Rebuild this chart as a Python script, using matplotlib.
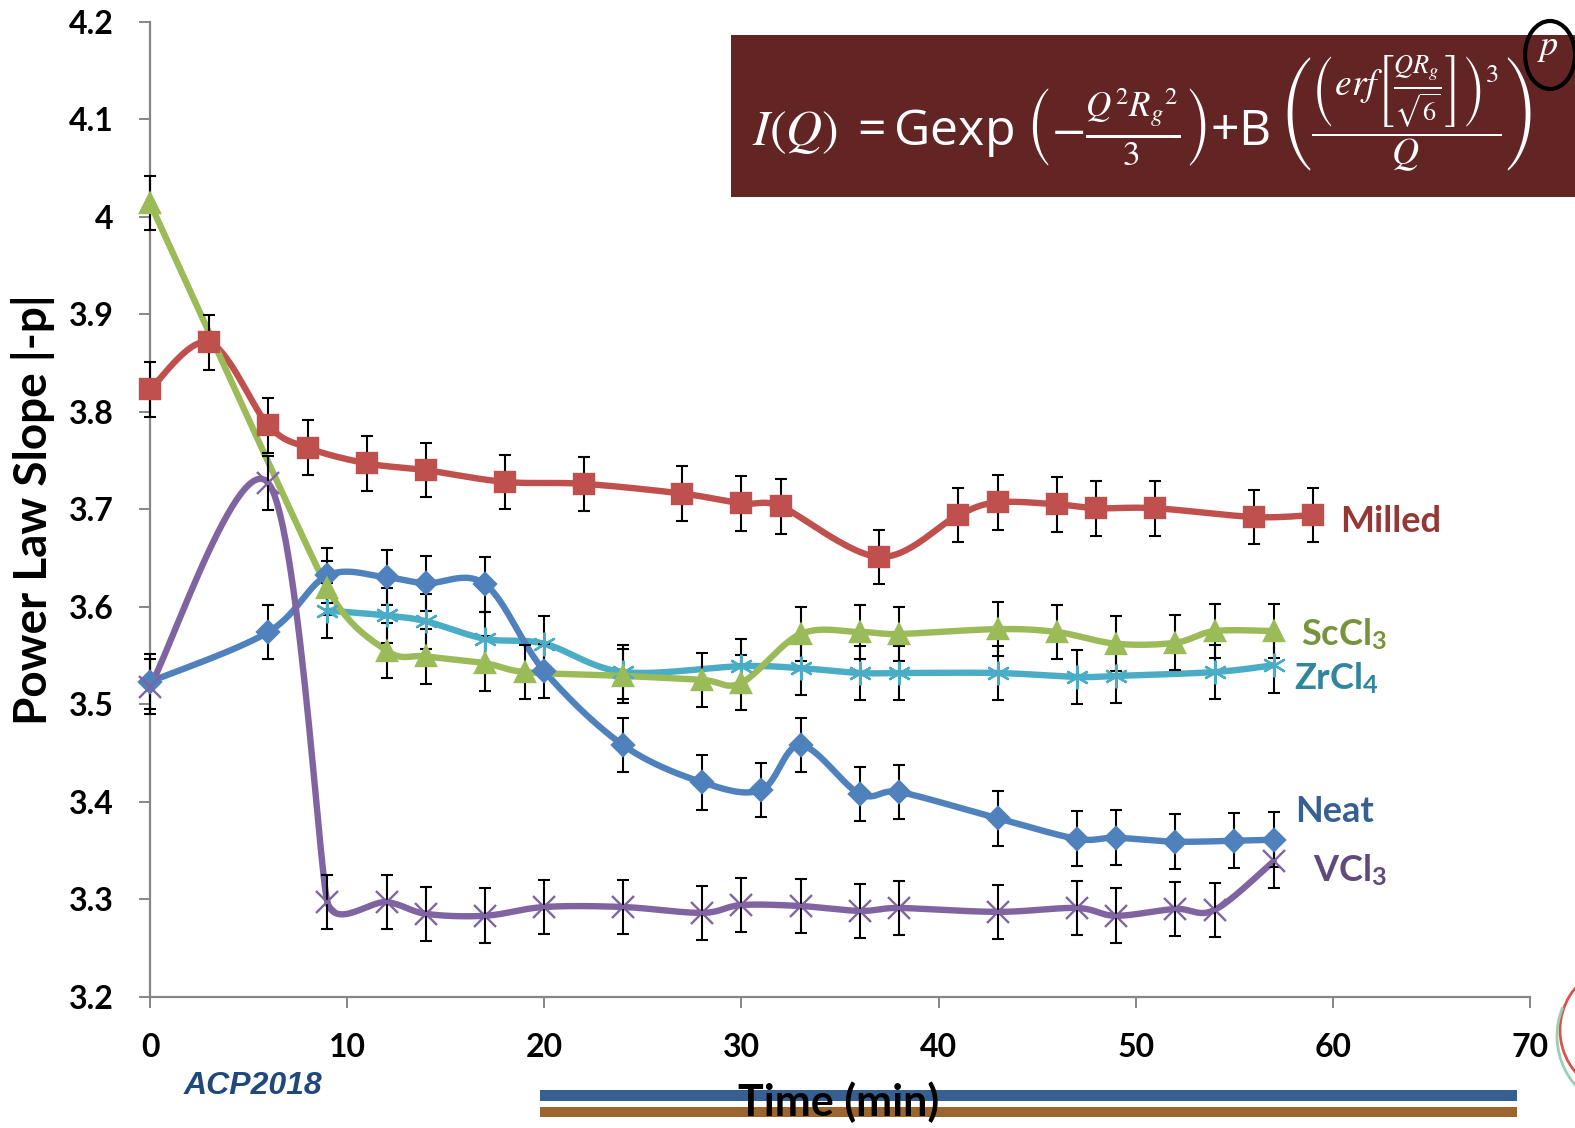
import numpy as np
import matplotlib
matplotlib.use("Agg")
import matplotlib.pyplot as plt
from matplotlib.patches import Rectangle, Ellipse, Arc

plt.rcParams['font.family'] = ['Lato', 'DejaVu Sans']
plt.rcParams['mathtext.fontset'] = 'custom'
plt.rcParams['mathtext.rm'] = 'STIXGeneral'
plt.rcParams['mathtext.it'] = 'STIXGeneral:italic'
plt.rcParams['mathtext.sf'] = 'Open Sans'
plt.rcParams['mathtext.bf'] = 'Lato:bold'
plt.rcParams['mathtext.fallback'] = 'stix'

# data (time in min, power law slope)
t_milled = [0, 3, 6, 8, 11, 14, 18, 22, 27, 30, 32, 37, 41, 43, 46, 48, 51, 56, 59]
milled = [3.823, 3.871, 3.786, 3.763, 3.747, 3.740, 3.728, 3.726, 3.716, 3.706,
          3.703, 3.651, 3.694, 3.707, 3.705, 3.701, 3.701, 3.692, 3.694]

t_sc = [0, 9, 12, 14, 17, 19, 24, 28, 30, 33, 36, 38, 43, 46, 49, 52, 54, 57]
sccl3 = [4.014, 3.619, 3.555, 3.549, 3.542, 3.533, 3.529, 3.525, 3.522, 3.572,
         3.574, 3.572, 3.577, 3.574, 3.562, 3.563, 3.575, 3.575]

t_zr = [9, 12, 14, 17, 20, 24, 30, 33, 36, 38, 43, 47, 49, 54, 57]
zrcl4 = [3.596, 3.591, 3.585, 3.567, 3.562, 3.533, 3.539, 3.537, 3.532, 3.532,
         3.532, 3.528, 3.529, 3.533, 3.540]

t_neat = [0, 6, 9, 12, 14, 17, 20, 24, 28, 31, 33, 36, 38, 43, 47, 49, 52, 55, 57]
neat = [3.523, 3.574, 3.632, 3.630, 3.624, 3.623, 3.534, 3.458, 3.420, 3.412,
        3.458, 3.408, 3.410, 3.383, 3.362, 3.363, 3.359, 3.360, 3.361]

t_v = [0, 6, 9, 12, 14, 17, 20, 24, 28, 30, 33, 36, 38, 43, 47, 49, 52, 54, 57]
vcl3 = [3.518, 3.727, 3.297, 3.297, 3.285, 3.283, 3.292, 3.292, 3.286, 3.294,
        3.293, 3.288, 3.291, 3.287, 3.291, 3.283, 3.290, 3.289, 3.339]

err_milled = 0.028
err_sc = 0.028
err_zr = 0.028
err_neat = 0.028
err_v = 0.028

x_ticks = [0, 10, 20, 30, 40, 50, 60, 70]
y_ticks = [3.2, 3.3, 3.4, 3.5, 3.6, 3.7, 3.8, 3.9, 4.0, 4.1, 4.2]
y_ticklabels = ["3.2", "3.3", "3.4", "3.5", "3.6", "3.7", "3.8", "3.9", "4", "4.1", "4.2"]

W, H = 1575, 1128


def px(x, y):
    return x / W, 1 - y / H


def smooth(t, y, sx=19.71, sy=975.0, n=30):
    # excel-like smoothed line: bezier segments, tangents limited by segment length
    p = np.column_stack([np.array(t, float) * sx, np.array(y, float) * sy])
    m = len(p)
    tan = np.zeros_like(p)
    for i in range(m):
        a = p[max(i - 1, 0)]
        b = p[min(i + 1, m - 1)]
        v = (b - a) / 6.0
        lim = []
        if i > 0:
            lim.append(np.hypot(*(p[i] - p[i - 1])))
        if i < m - 1:
            lim.append(np.hypot(*(p[i + 1] - p[i])))
        cap = 0.5 * min(lim)
        L = np.hypot(*v)
        if L > cap and L > 0:
            v = v * cap / L
        tan[i] = v
    u = np.linspace(0, 1, n)[:, None]
    out = [p[:1]]
    for i in range(m - 1):
        p0, p3 = p[i], p[i + 1]
        c1, c2 = p0 + tan[i], p3 - tan[i + 1]
        seg = ((1 - u) ** 3) * p0 + 3 * ((1 - u) ** 2) * u * c1 + 3 * (1 - u) * u ** 2 * c2 + u ** 3 * p3
        out.append(seg[1:])
    q = np.vstack(out)
    return q[:, 0] / sx, q[:, 1] / sy


fig = plt.figure(figsize=(15.75, 11.28), dpi=100)
ax = fig.add_axes([150 / W, (H - 996.7) / H, 1380 / W, 975 / H])

star6 = (6, 2, 0)
series = [
    (t_zr, zrcl4, err_zr, '#4BACC6', star6, 17, 'none'),
    (t_neat, neat, err_neat, '#4F81BD', 'D', 11, '#4F81BD'),
    (t_milled, milled, err_milled, '#C0504D', 's', 14, '#C0504D'),
    (t_v, vcl3, err_v, '#8064A2', 'x', 16, 'none'),
    (t_sc, sccl3, err_sc, '#9BBB59', '^', 14, '#9BBB59'),
]
for i, (t, y, e, c, mk, ms, fc) in enumerate(series):
    xs, ys = smooth(t, y)
    ax.plot(xs, ys, color=c, lw=4.6, zorder=2 + i * 0.1, clip_on=False,
            solid_capstyle='round', solid_joinstyle='round')
    ax.errorbar(t, y, yerr=e, fmt='none', ecolor='black', elinewidth=1.5,
                capsize=4.5, capthick=1.5, zorder=3, clip_on=False)
    ax.plot(t, y, ls='none', marker=mk, ms=ms, color=c, mfc=fc, mec=c,
            mew=1.7, zorder=4 + i * 0.1, clip_on=False)

ax.set_xlim(0, 70)
ax.set_ylim(3.2, 4.2)
ax.set_xticks(x_ticks)
ax.set_yticks(y_ticks)
ax.set_yticklabels(y_ticklabels)
for s in ['top', 'right']:
    ax.spines[s].set_visible(False)
for s in ['left', 'bottom']:
    ax.spines[s].set_color('#868686')
    ax.spines[s].set_linewidth(1.6)
ax.tick_params(direction='out', length=8, width=1.4, color='#868686',
               labelsize=23, pad=18)
for lab in ax.get_xticklabels() + ax.get_yticklabels():
    lab.set_fontweight('bold')

ax.set_ylabel('Power Law Slope |-p|', fontsize=33, fontweight='bold', va='center')
ax.yaxis.set_label_coords(-0.085, 0.5)

fx, fy = px(839, 1102)
fig.text(fx, fy, 'Time (min)', fontsize=31, fontweight='bold', ha='center',
         va='center', zorder=5)


# series labels
def put(text, x, y, color):
    fx, fy = px(x, y)
    fig.text(fx, fy, text, color=color, fontsize=26, fontweight='bold',
             va='center', ha='left', math_fontfamily='custom')


put('Milled', 1340, 521, '#953735')
put(r'ScCl$_\mathbf{3}$', 1301, 634, '#77933C')
put(r'ZrCl$_\mathbf{4}$', 1294, 678, '#31859C')
put('Neat', 1295, 811, '#376092')
put(r'VCl$_\mathbf{3}$', 1313, 870, '#604A7B')

# formula box
bx, by = px(731, 197)
fig.patches.append(Rectangle((bx, by), 1 - bx, 162 / H, transform=fig.transFigure,
                             facecolor='#632523', edgecolor='none', zorder=1))
fx, fy = px(752, 128)
fig.text(fx, fy,
         r'$I(Q)\ \mathsf{=Gexp}\ \left(-\frac{Q^2{R_g}^2}{3}\right)\mathsf{+B}$',
         color='white', fontsize=36, va='center', ha='left', math_fontfamily='custom',
         zorder=2)
fx, fy = px(1282, 114)
fig.text(fx, fy,
         r'$\left(\dfrac{\left(erf\left[\frac{QR_g}{\sqrt{6}}\right]\right)^3}{Q}\right)$',
         color='white', fontsize=27, va='center', ha='left', math_fontfamily='custom',
         zorder=2)
fx, fy = px(1548, 48)
fig.text(fx, fy, r'$p$', color='white', fontsize=26, va='center', ha='center',
         math_fontfamily='custom', zorder=3)
ex, ey = px(1550, 55)
fig.patches.append(Ellipse((ex, ey), 50 / W, 68 / H, transform=fig.transFigure,
                           facecolor='none', edgecolor='black', lw=3, zorder=4))

# footer
fx, fy = px(184, 1086)
fig.text(fx, fy, 'ACP2018', color='#1F497D', fontsize=23, fontweight='bold',
         style='italic', family=['Liberation Sans', 'DejaVu Sans'], va='center', ha='left')
x0, _ = px(540, 0)
x1, _ = px(1517, 0)
_, yb = px(0, 1101)
fig.patches.append(Rectangle((x0, yb), x1 - x0, 11 / H, transform=fig.transFigure,
                             facecolor='#376092', edgecolor='none', zorder=1))
_, yb = px(0, 1117)
fig.patches.append(Rectangle((x0, yb), x1 - x0, 10 / H, transform=fig.transFigure,
                             facecolor='#9C6530', edgecolor='none', zorder=1))

# partial logo ring at the right edge
cx, cy = px(1625, 1030)
fig.patches.append(Arc((cx, cy), 130 / W, 130 / H, theta1=110, theta2=250,
                       transform=fig.transFigure, color='#D9534F', lw=2))
cx, cy = px(1632, 1036)
fig.patches.append(Arc((cx, cy), 150 / W, 150 / H, theta1=150, theta2=260,
                       transform=fig.transFigure, color='#9CCFB0', lw=2))

fig.savefig('out.png', dpi=100)
